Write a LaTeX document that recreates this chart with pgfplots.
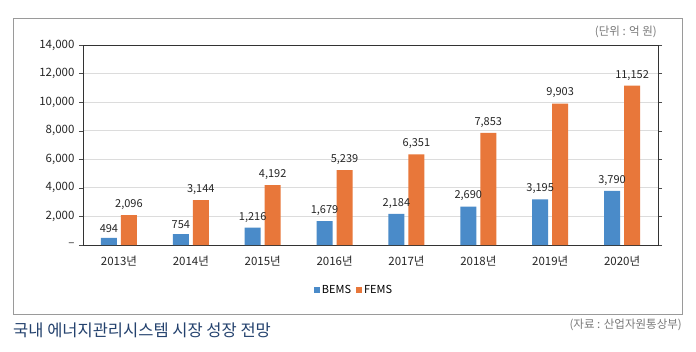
\documentclass[border=0pt]{standalone}
\usepackage{fontspec}
\setmainfont{Noto Sans CJK KR}
\usepackage{pgfplots}
\pgfplotsset{compat=1.18}
\definecolor{bemsblue}{HTML}{4A8BC9}
\definecolor{femsorange}{HTML}{E8773A}
\definecolor{gridgray}{HTML}{DCDCDC}
\definecolor{framegray}{HTML}{9A9A9A}
\definecolor{titleblue}{HTML}{24426E}
\definecolor{txtgray}{HTML}{7A7A7A}
\begin{document}
\begin{tikzpicture}[x=1pt,y=1pt]
\useasboundingbox (0,0) rectangle (696,351);
\fill[white] (0,0) rectangle (696,351);
\draw[framegray, line width=0.8pt] (13,37) rectangle (682,333);
\begin{axis}[
  at={(83pt,106pt)}, anchor=south west,
  scale only axis, width=575pt, height=200pt,
  ybar=4pt, bar width=16pt,
  xmin=-0.5, xmax=7.5, ymin=0, ymax=14000,
  xtick={0,...,7},
  xticklabels={2013년,2014년,2015년,2016년,2017년,2018년,2019년,2020년},
  extra x ticks={0.5,1.5,...,6.5},
  extra x tick labels={},
  extra x tick style={major tick length=3pt, tick style={draw=black!80}, grid=none, tick align=inside},
  x tick style={draw=none},
  ytick={0,2000,...,14000},
  scaled y ticks=false,
  yticklabels={{--},{2,000},{4,000},{6,000},{8,000},{10,000},{12,000},{14,000}},
  y tick style={draw=black!70},
  major tick length=4pt,
  tick align=outside,
  ymajorgrids, grid style={gridgray, line width=0.8pt},
  axis line style={black!80, line width=0.9pt},
  every tick label/.append style={font=\fontsize{11.5}{13}\selectfont, text=black!85},
  /pgf/number format/assume math mode=true,
  xticklabel style={yshift=-3pt},
  yticklabel style={xshift=-1pt},
  nodes near coords,
  nodes near coords style={font=\fontsize{11}{13}\selectfont, text=black!85, /pgf/number format/1000 sep={,}, /pgf/number format/assume math mode=true, yshift=2pt},
  legend style={at={(0.4713,-0.225)}, anchor=center, draw=none, fill=none, font=\fontsize{11}{13}\selectfont, legend columns=2, /tikz/every even column/.append style={column sep=3pt}, inner sep=0pt},
  legend cell align=left,
  legend image code/.code={\fill[#1] (0pt,-3pt) rectangle (6pt,3pt);},
  clip=false,
]
\addplot[fill=bemsblue, draw=none] coordinates {(0,494) (1,754) (2,1216) (3,1679) (4,2184) (5,2690) (6,3195) (7,3790)};
\addplot[fill=femsorange, draw=none] coordinates {(0,2096) (1,3144) (2,4192) (3,5239) (4,6351) (5,7853) (6,9903) (7,11152)};
\legend{BEMS,FEMS}
\end{axis}
\node[anchor=east, text=txtgray, font=\fontsize{11.5}{13}\selectfont, inner sep=0pt] at (657,319) {(단위 : 억 원)};
\node[anchor=west, text=titleblue, font=\fontsize{16.5}{19}\selectfont, inner sep=0pt] at (13,21) {국내 에너지관리시스템 시장 성장 전망};
\node[anchor=east, text=txtgray, font=\fontsize{11.5}{13}\selectfont, inner sep=0pt] at (682,26) {(자료 : 산업자원통상부)};
\end{tikzpicture}
\end{document}
